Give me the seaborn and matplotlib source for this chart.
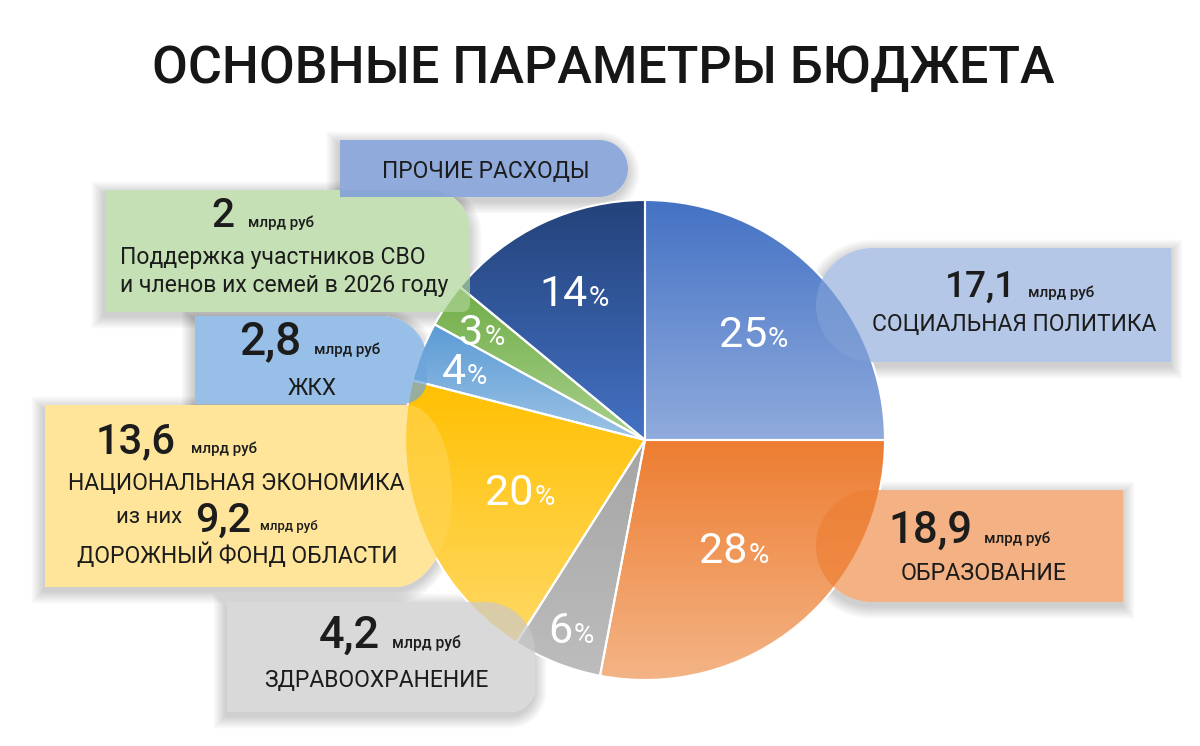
import numpy as np
import matplotlib
matplotlib.use("Agg")
import matplotlib.pyplot as plt
import seaborn as sns
from matplotlib.patches import Polygon
from matplotlib.colors import to_rgb

# ---------------- data ----------------
title = "ОСНОВНЫЕ ПАРАМЕТРЫ БЮДЖЕТА"
unit = "млрд руб"
categories = ["СОЦИАЛЬНАЯ ПОЛИТИКА", "ОБРАЗОВАНИЕ", "ЗДРАВООХРАНЕНИЕ",
              "НАЦИОНАЛЬНАЯ ЭКОНОМИКА", "ЖКХ",
              "Поддержка участников СВО", "ПРОЧИЕ РАСХОДЫ"]
shares = [25, 28, 6, 20, 4, 3, 14]                 # % of budget
amounts = ["17,1", "18,9", "4,2", "13,6", "2,8", "2", None]  # млрд руб
road_fund_amount = "9,2"
road_fund_label = "ДОРОЖНЫЙ ФОНД ОБЛАСТИ"
svo_line2 = "и членов их семей в 2026 году"
of_them = "из них"

# ---------------- style ----------------
sns.set_theme(style="white")
plt.rcParams["font.family"] = ["Roboto", "DejaVu Sans"]

grad_top = ["#4472C4", "#ED7D31", "#A5A5A5", "#FFC000", "#5B9BD5", "#70AD47", "#23427A"]
grad_bot = ["#90ABDD", "#F4B486", "#BDBDBD", "#FFD966", "#9DC3E6", "#A9D18E", "#4472C4"]
label_r = [0.64, 0.58, 0.84, 0.56, 0.81, 0.82, 0.69]

W, H = 1200, 746
fig = plt.figure(figsize=(12, 7.46), dpi=100)
ax = fig.add_axes([0, 0, 1, 1])
renderer = fig.canvas.get_renderer()


def Y(y):
    return H - y


CX, CY, R = 645, 440, 240

wedges, _ = ax.pie(shares, startangle=90, counterclock=False,
                   center=(CX, Y(CY)), radius=R,
                   wedgeprops=dict(edgecolor="white", linewidth=1.5,
                                   facecolor="none", zorder=2))

for w, ct, cb in zip(wedges, grad_top, grad_bot):
    ext = w.get_path().get_extents()
    pal = np.array(sns.blend_palette([cb, ct], n_colors=256))
    im = ax.imshow(pal[:, None, :], extent=[ext.x0, ext.x1, ext.y0, ext.y1],
                   origin="lower", aspect="auto", zorder=1,
                   interpolation="bilinear")
    im.set_clip_path(w)


# ---------------- boxes ----------------
def box_pts(x0, y0, x1, y1, tl=(0, 0), tr=(0, 0), br=(0, 0), bl=(0, 0),
            grow=0.0, dx=0.0, dy=0.0):
    x0 -= grow; y0 -= grow; x1 += grow; y1 += grow
    x0 += dx; x1 += dx; y0 += dy; y1 += dy

    def g(r):
        return (r[0] + grow, r[1] + grow) if r[0] > 0 else (0, 0)

    def arc(cx, cy, rx, ry, a0, a1):
        if rx <= 0:
            return [(cx, cy)]
        t = np.radians(np.linspace(a0, a1, 40))
        return list(zip(cx + rx * np.cos(t), cy + ry * np.sin(t)))

    pts = []
    rx, ry = g(tr); pts += arc(x1 - rx, y0 + ry, rx, ry, -90, 0)
    rx, ry = g(br); pts += arc(x1 - rx, y1 - ry, rx, ry, 0, 90)
    rx, ry = g(bl); pts += arc(x0 + rx, y1 - ry, rx, ry, 90, 180)
    rx, ry = g(tl); pts += arc(x0 + rx, y0 + ry, rx, ry, 180, 270)
    return [(x, Y(y)) for x, y in pts]


def draw_box(rect, visible, alpha, z, **radii):
    # soft drop shadow (below the pie)
    for k in range(1, 17):
        ax.add_patch(Polygon(box_pts(*rect, grow=k * 0.8, dx=-1, dy=4, **radii),
                             closed=True, facecolor="black", edgecolor="none",
                             alpha=0.01, zorder=0.5))
    # white knockout so the box keeps its colour over the shadow
    ax.add_patch(Polygon(box_pts(*rect, **radii), closed=True,
                         facecolor="white", edgecolor="none", zorder=0.9))
    v = np.array(to_rgb(visible))
    c = np.clip((v - (1 - alpha)) / alpha, 0, 1)
    ax.add_patch(Polygon(box_pts(*rect, **radii), closed=True,
                         facecolor=c, alpha=alpha, edgecolor="none", zorder=z))


draw_box((105, 190, 470, 312), "#C5E0B4", 0.7, 4, tr=(40, 40), br=(8, 8))
draw_box((340, 140, 628, 197), "#8FAADC", 0.9, 4.2, tr=(28.5, 28.5), br=(28.5, 28.5))
draw_box((195, 316, 427, 404), "#98C0E7", 0.7, 4, tr=(45, 45), br=(25, 25))
draw_box((45, 405, 452, 587), "#FFE699", 0.6, 4, tr=(45, 90), br=(57, 92))
draw_box((227, 602, 535, 712), "#D9D9D9", 0.7, 4, tr=(50, 50), br=(25, 25))
draw_box((816, 248, 1171, 362), "#B4C7E7", 0.6, 4, tl=(57, 57), bl=(57, 57))
draw_box((816, 490, 1123, 602), "#F4B183", 0.6, 4, tl=(56, 56), bl=(56, 56))


# ---------------- text ----------------
DARK = "#1c1c1c"


def fit_text(s, xl, xr, base, weight="normal", color=DARK, size0=20):
    t = ax.text((xl + xr) / 2, Y(base), s, ha="center", va="baseline",
                fontsize=size0, fontweight=weight, color=color, zorder=7)
    bb = t.get_window_extent(renderer)
    t.set_fontsize(size0 * (xr - xl) / bb.width)
    return t


fit_text(title, 152, 1055, 83, weight="medium", color="#161616", size0=38)

fit_text(categories[6], 382, 589, 178)

fit_text(amounts[5], 211, 234, 227, weight="medium", size0=30)
fit_text(unit, 248, 314, 227, weight="medium", size0=10)
fit_text(categories[5], 120, 425, 264)
fit_text(svo_line2, 120, 449, 292)

fit_text(amounts[4], 239, 301, 354, weight="medium", size0=30)
fit_text(unit, 314, 381, 354, weight="medium", size0=10)
fit_text(categories[4], 288, 337, 395)

fit_text(amounts[3], 96, 176, 453, weight="medium", size0=30)
fit_text(unit, 191, 257, 453, weight="medium", size0=10)
fit_text(categories[3], 68, 405, 490)
fit_text(of_them, 116, 182, 523)
fit_text(road_fund_amount, 195, 251, 532, weight="medium", size0=30)
fit_text(unit, 260, 318, 530, weight="medium", size0=10)
fit_text(road_fund_label, 77, 398, 563)

fit_text(amounts[2], 319, 380, 648, weight="medium", size0=30)
fit_text(unit, 392, 461, 648, weight="medium", size0=10)
fit_text(categories[2], 264, 488, 687)

fit_text(amounts[0], 945, 1016, 297, weight="medium", size0=30)
fit_text(unit, 1028, 1095, 297, weight="medium", size0=10)
fit_text(categories[0], 872, 1156, 331)

fit_text(amounts[1], 888, 972, 543, weight="medium", size0=30)
fit_text(unit, 984, 1051, 543, weight="medium", size0=10)
fit_text(categories[1], 901, 1067, 580)

# percent labels inside the pie
for w, p, f in zip(wedges, shares, label_r):
    ang = np.radians((w.theta1 + w.theta2) / 2)
    lx = CX + f * R * np.cos(ang)
    ly = Y(CY) + f * R * np.sin(ang)
    base = ly - 16
    tn = ax.text(lx, base, str(p), ha="left", va="baseline", fontsize=31,
                 fontweight="normal", color="white", zorder=7)
    tp = ax.text(lx, base, "%", ha="left", va="baseline", fontsize=20,
                 fontweight="normal", color="white", zorder=7)
    wn = tn.get_window_extent(renderer).width
    wp = tp.get_window_extent(renderer).width
    x0 = lx - (wn + wp + 1) / 2
    tn.set_x(x0)
    tp.set_x(x0 + wn + 1)

ax.set_xlim(0, W)
ax.set_ylim(0, H)
ax.set_aspect("auto")
ax.axis("off")
fig.savefig("out.png", dpi=100, facecolor="white")
